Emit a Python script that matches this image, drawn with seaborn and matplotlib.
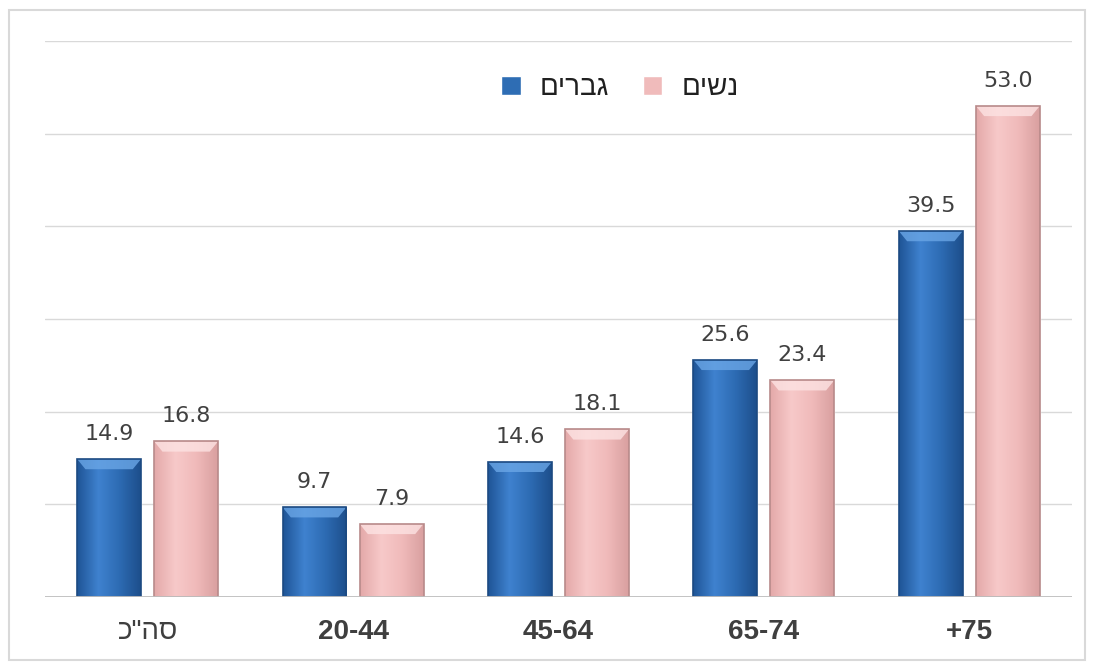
import numpy as np
import pandas as pd
import matplotlib.pyplot as plt
from matplotlib.colors import LinearSegmentedColormap
from matplotlib.patches import Rectangle, Polygon
import seaborn as sns

# values
categories = ['סה"כ', '20-44', '45-64', '65-74', '+75']
men = [14.9, 9.7, 14.6, 25.6, 39.5]
women = [16.8, 7.9, 18.1, 23.4, 53.0]
series_names = ['גברים', 'נשים']


def rtl(s):
    # matplotlib has no bidi support, so flip Hebrew strings to visual order
    if any('\u0590' <= ch <= '\u05ff' for ch in s):
        return s[::-1]
    return s


cats_vis = [rtl(c) for c in categories]
names_vis = [rtl(n) for n in series_names]

df = pd.DataFrame({
    'group': cats_vis * 2,
    'value': men + women,
    'sex': [names_vis[0]] * len(men) + [names_vis[1]] * len(women),
})

sns.set_theme(style='white')
plt.rcParams['font.family'] = ['DejaVu Sans']

fig = plt.figure(figsize=(10.95, 6.62), dpi=100)
ax = fig.add_axes([0.041, 0.098, 0.938, 0.84])

palette = {names_vis[0]: '#2E6DB4', names_vis[1]: '#F0BBBB'}
sns.barplot(data=df, x='group', y='value', hue='sex', order=cats_vis,
            hue_order=names_vis, palette=palette, width=0.75, gap=0.17,
            saturation=1, ax=ax)

styles = [
    (['#1f5597', '#3f82cf', '#2d6bb3', '#1d4f8c'], '#1c4a82', '#6aa6e6'),
    (['#e4a9a9', '#f7c9c9', '#f0baba', '#d9a0a0'], '#b88a8a', '#fde3e3'),
]

for cont, (grad_cols, edge, bevel) in zip(ax.containers, styles):
    cmap = LinearSegmentedColormap.from_list('g', grad_cols)
    for bar in cont:
        x0, y0 = bar.get_x(), bar.get_y()
        w, h = bar.get_width(), bar.get_height()
        img = ax.imshow(np.linspace(0, 1, 64).reshape(1, -1), cmap=cmap,
                        extent=[x0, x0 + w, y0, y0 + h], aspect='auto',
                        zorder=bar.get_zorder() + 0.1)
        img.set_clip_path(bar)
        bh = 1.1
        dx = w * 0.13
        top = y0 + h
        ax.add_patch(Polygon([[x0, top], [x0 + w, top], [x0 + w - dx, top - bh],
                              [x0 + dx, top - bh]], closed=True, fc=bevel,
                             ec='none', alpha=0.8, zorder=bar.get_zorder() + 0.2))
        ax.add_patch(Rectangle((x0, y0), w, h, fill=False, ec=edge, lw=1.2,
                               zorder=bar.get_zorder() + 0.3))
    ax.bar_label(cont, fmt='%.1f', padding=11, fontsize=16, color='#404040')

ax.set_xlim(-0.5, 4.5)
ax.set_ylim(0, 60)
ax.set_yticks(range(0, 61, 10))
ax.set_yticklabels([])
ax.yaxis.grid(True, color='#d9d9d9', lw=1)
ax.set_axisbelow(True)
ax.axhline(0, color='#bfbfbf', lw=1.3, zorder=5)
for s in ax.spines.values():
    s.set_visible(False)
ax.set_xlabel('')
ax.set_ylabel('')
ax.tick_params(axis='x', length=0, pad=16, labelsize=20, labelcolor='#3f3f3f')
ax.tick_params(axis='y', length=0)
for lbl in ax.get_xticklabels():
    lbl.set_family(['Liberation Sans', 'DejaVu Sans'])
    if rtl(lbl.get_text()) == lbl.get_text():
        lbl.set_fontweight('bold')

handles, labels = ax.get_legend_handles_labels()
leg = ax.legend(handles, labels, loc='center', bbox_to_anchor=(0.56, 0.915),
                ncol=2, frameon=False, fontsize=20, handlelength=0.7,
                handleheight=0.7, handletextpad=0.7, columnspacing=1.2,
                labelcolor='#202020')
for t in leg.get_texts():
    t.set_family(['Liberation Sans', 'DejaVu Sans'])

fig.add_artist(Rectangle((9 / 1095, 0.003), 1076 / 1095, 650 / 662,
                         transform=fig.transFigure, fill=False,
                         ec='#d9d9d9', lw=1.5))

fig.savefig('out.png', dpi=100)
